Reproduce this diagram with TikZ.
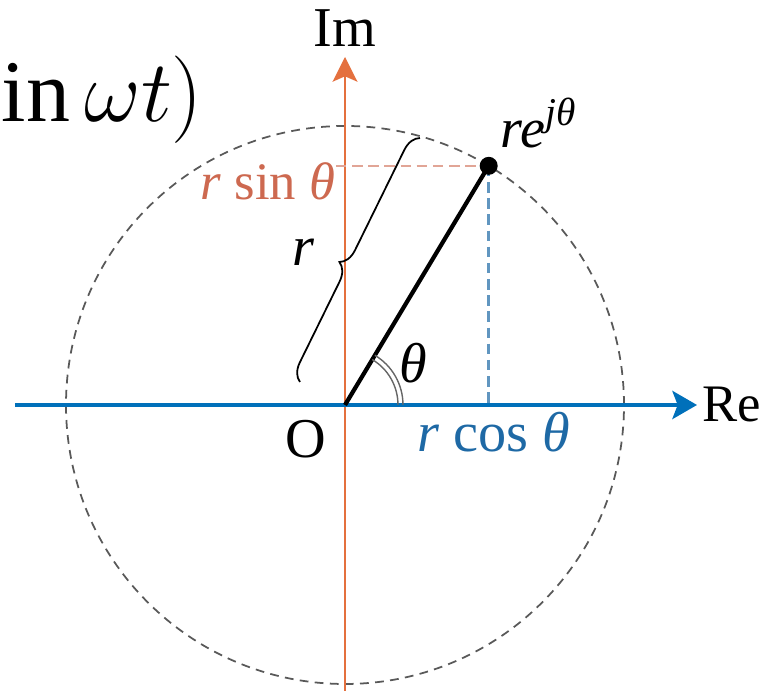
\documentclass[tikz,border=0pt]{standalone}
\usepackage{fontspec}
\setmainfont{Liberation Serif}
\usetikzlibrary{arrows.meta, decorations.pathreplacing, calc}

\definecolor{reblue}{RGB}{0,112,186}
\definecolor{imorange}{RGB}{228,112,62}
\definecolor{cosblue}{RGB}{30,105,165}
\definecolor{sinred}{RGB}{205,105,80}

\begin{document}
\begin{tikzpicture}[
    lbl/.style={font=\fontsize{16}{19}\selectfont, inner sep=0pt},
    guide/.style={line width=0.7pt, dash pattern=on 3pt off 1.6pt},
  ]
    \useasboundingbox (0,0) rectangle (7.62,6.91);

    % Formula at the left edge
    \node[anchor=base west, inner sep=0pt] (eq) at (0.01,5.69)
        {\fontsize{25}{30}\selectfont $\mathrm{in}\,\omega t)$};

    % Origin and point on the circle
    \coordinate (O) at (3.45,2.86);
    \coordinate (P) at ($(O)+(59:2.79)$);

    % Circle of radius r
    \draw[black!65, line width=0.5pt, dash pattern=on 2.5pt off 1.8pt] (O) circle (2.79);

    % Axes
    \coordinate (reStart) at (0.15,2.86);
    \coordinate (reEnd) at (6.97,2.86);
    \coordinate (imStart) at (3.45,0);
    \coordinate (imEnd) at (3.45,6.34);
    \draw[imorange, line width=0.85pt, -{Stealth[length=7pt,width=7pt,inset=1.5pt]}] (imStart) -- (imEnd);
    \draw[reblue, line width=1.1pt, -{Stealth[length=7pt,width=8pt,inset=1.5pt]}] (reStart) -- (reEnd);

    % Axis labels
    \node[lbl] (im) at (3.45,6.63) {Im};
    \node[lbl, anchor=west, font=\fontsize{15}{18}\selectfont] (re) at (7.02,2.86) {Re};
    \node[lbl] (orig) at (3.06,2.52) {O};

    % Projections
    \node[lbl, anchor=base west, text=sinred, font=\fontsize{15}{18}\selectfont] (rsin) at (2.00,4.91) {\textit{r} sin \textit{θ}};
    \node[lbl, anchor=base west, text=cosblue] (rcos) at (4.17,2.39) {\textit{r} cos \textit{θ}};
    \draw[guide, sinred!60] (rsin.east |- P) -- (P);
    \draw[guide, cosblue!70] (P) -- (P |- O);

    % Vector and point
    \draw[line width=1.2pt] (O) -- (P);
    \fill (P) circle (0.09);
    \node[lbl, anchor=base west] (pt) at (5.00,5.43) {\textit{re}\textsuperscript{\textit{jθ}}};

    % Angle
    \draw[black!60, line width=0.4pt] ($(O)+(0.53,0)$) arc (0:59:0.53);
    \draw[black!60, line width=0.4pt] ($(O)+(0.58,0)$) arc (0:59:0.58);
    \node[lbl] (theta) at (4.13,3.28) {\textit{θ}};

    % Brace for the length r
    \coordinate (brA) at (3.00,3.09);
    \coordinate (brB) at (4.20,5.53);
    \draw[line width=0.5pt, decorate, decoration={brace, amplitude=5pt, aspect=0.46}] (brA) -- (brB);
    \node[lbl] (rlen) at (3.04,4.39) {\textit{r}};
\end{tikzpicture}
\end{document}
